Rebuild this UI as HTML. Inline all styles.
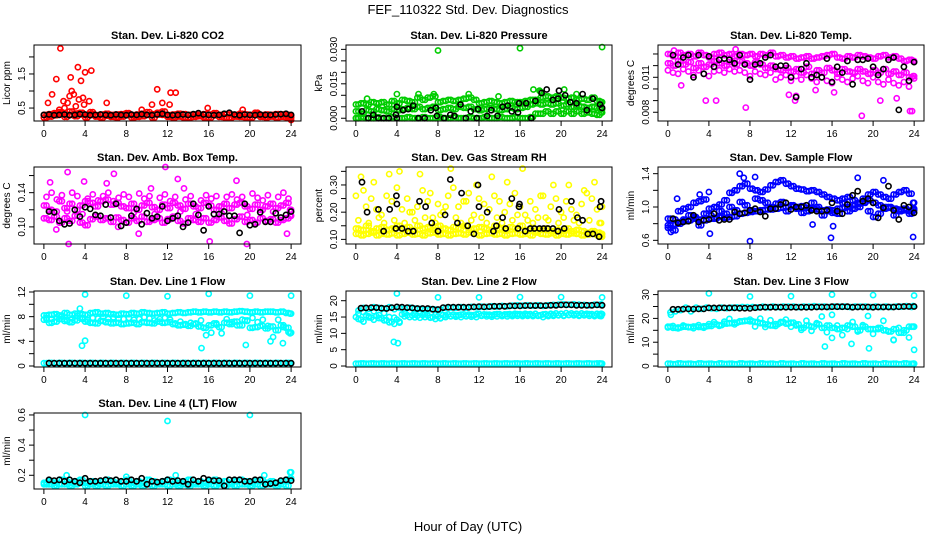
<!DOCTYPE html>
<html><head><meta charset="utf-8"><style>
html,body{margin:0;padding:0;background:#fff;}
svg{display:block;font-family:"Liberation Sans",Arial,sans-serif;}
</style></head><body>
<svg id="chart" width="936" height="540" viewBox="0 0 936 540">
<text x="468" y="14" text-anchor="middle" font-size="13">FEF_110322  Std. Dev. Diagnostics</text>
<text x="468" y="531" text-anchor="middle" font-size="13">Hour of Day (UTC)</text>
</svg>
<script>
// shared hour grid (half-hour sampling)
const H = [0,0.5,1,1.5,2,2.5,3,3.5,4,4.5,5,5.5,6,6.5,7,7.5,8,8.5,9,9.5,10,10.5,11,11.5,12,12.5,13,13.5,14,14.5,15,15.5,16,16.5,17,17.5,18,18.5,19,19.5,20,20.5,21,21.5,22,22.5,23,23.5,24];
const H2 = [0.25,0.75,1.25,1.75,2.25,2.75,3.25,3.75,4.25,4.75,5.25,5.75,6.25,6.75,7.25,7.75,8.25,8.75,9.25,9.75,10.25,10.75,11.25,11.75,12.25,12.75,13.25,13.75,14.25,14.75,15.25,15.75,16.25,16.75,17.25,17.75,18.25,18.75,19.25,19.75,20.25,20.75,21.25,21.75,22.25,22.75,23.25,23.75,23.9];
const xTicks = [0,4,8,12,16,20,24];

// Panel 1: Li-820 CO2
const co2A = [0.30,0.32,0.29,0.33,0.31,0.30,0.34,0.31,0.30,0.32,0.29,0.31,0.33,0.30,0.31,0.32,0.30,0.29,0.31,0.33,0.30,0.32,0.31,0.30,0.29,0.31,0.33,0.32,0.30,0.31,0.30,0.32,0.31,0.29,0.30,0.32,0.31,0.30,0.33,0.31,0.30,0.32,0.29,0.31,0.30,0.32,0.31,0.30,0.28];
const co2B = [0.22,0.25,0.35,0.38,0.24,0.40,0.26,0.36,0.23,0.38,0.25,0.22,0.27,0.24,0.23,0.25,0.35,0.22,0.24,0.26,0.38,0.22,0.36,0.40,0.24,0.22,0.25,0.23,0.22,0.24,0.26,0.23,0.22,0.35,0.24,0.23,0.22,0.25,0.24,0.23,0.22,0.36,0.24,0.23,0.25,0.22,0.24,0.23,0.22];
const co2OutX = [1.6,1.2,1.9,2.6,2.7,2.9,3.3,3.6,4.0,4.6,3.8,0.8,0.4,3.9,4.4,6.1,11.0,12.3,12.8,11.5,10.5,15.9,12.2,2.3,3.4,2.0,1.5,9.5,19.3,24.0,3.1,2.5];
const co2OutY = [2.25,1.35,0.7,1.4,1.0,0.9,1.7,1.3,1.55,1.6,0.8,0.9,0.65,0.6,0.7,0.65,1.05,0.95,0.95,0.65,0.6,0.5,0.6,0.65,0.75,0.5,0.45,0.45,0.45,0.15,0.55,0.85];
const co2Blk = [0.30,0.31,0.29,0.30,0.31,0.29,0.30,0.32,0.31,0.29,0.30,0.31,0.30,0.29,0.31,0.30,0.29,0.31,0.30,0.32,0.30,0.29,0.31,0.33,0.30,0.29,0.30,0.31,0.30,0.32,0.35,0.31,0.30,0.29,0.30,0.33,0.36,0.31,0.29,0.31,0.30,0.29,0.31,0.30,0.30,0.31,0.32,0.33,0.30];

// Panel 2: Li-820 Pressure
const prA = [0.006,0.0065,0.006,0.007,0.0065,0.007,0.006,0.0075,0.0065,0.008,0.0075,0.007,0.009,0.008,0.009,0.0095,0.007,0.0075,0.008,0.0075,0.008,0.0085,0.009,0.008,0.0065,0.007,0.0075,0.007,0.0065,0.007,0.0075,0.007,0.007,0.0075,0.008,0.008,0.009,0.0095,0.009,0.0095,0.009,0.0085,0.009,0.008,0.0085,0.008,0.009,0.0075,0.007];
const prB = [0.003,0.002,0.0035,0.003,0.004,0.0035,0.003,0.004,0.0035,0.004,0.0045,0.004,0.005,0.004,0.0045,0.005,0.0035,0.004,0.0045,0.004,0.005,0.0045,0.005,0.004,0.0035,0.004,0.0045,0.004,0.0035,0.004,0.0045,0.004,0.0045,0.005,0.006,0.0065,0.006,0.0065,0.006,0.0065,0.0055,0.006,0.005,0.0055,0.005,0.0045,0.005,0.0045,0.004];
const prZ = [0,0.0005,0,0,0.0005,0,0,0.0005,0,0,0.0005,0,0,0.0005,0,0,0.0005,0,0,0.0005,0,0,0.0005,0,0,0.0005,0,0,0.0005,0,0,0.0005,0,0,0.0005,0.002,0.002,0.003,0.002,0.003,0.002,0.003,0.002,0.003,0.002,0.0025,0.002,0.0015,0.0025];
const prOutX = [8,16,24,1.1,17.3,20.3,18,4,6.1,7.6,11.0,13.9,21.5,17.9,0.2];
const prOutY = [0.0295,0.0305,0.0310,0.0085,0.0125,0.0125,0.0115,0.0105,0.0105,0.0105,0.0105,0.0095,0.0105,0.0120,0];
const prBlkX = [0.6,1.2,1.7,2.2,2.7,3.2,4,4,3.9,4.6,5.1,5.6,6.1,6.7,7.3,7.8,7.9,8.6,9.2,9.6,10.2,10.7,11.2,11.8,11.9,12.8,13.2,13.8,14.3,14.8,15.2,15.8,15.9,16.6,17.1,17.5,18.1,18.6,19.2,19.7,19.8,20.4,20.9,21.5,22.1,22.5,23.1,23.8,24];
const prBlkY = [0.003,0,0.0015,0,0,0,0.005,0,0.0015,0.0035,0.004,0.0055,0,0,0.0035,0.0045,0.001,0,0.0015,0.001,0.006,0,0.003,0,0.004,0.001,0.0035,0.001,0.005,0.0055,0.003,0.0025,0.0065,0.0065,0,0.0075,0.011,0.0125,0.008,0.0085,0.012,0.010,0.007,0.0065,0.0105,0.0035,0.0085,0.006,0.0045];

// Panel 3: Li-820 Temp
const tpA = [0.0130,0.0128,0.0131,0.0129,0.0130,0.0128,0.0131,0.0129,0.0127,0.0130,0.0131,0.0129,0.0130,0.0128,0.0130,0.0129,0.0130,0.0128,0.0130,0.0129,0.0131,0.0128,0.0129,0.0127,0.0128,0.0126,0.0127,0.0128,0.0126,0.0127,0.0128,0.0129,0.0130,0.0127,0.0126,0.0128,0.0127,0.0129,0.0128,0.0127,0.0126,0.0128,0.0129,0.0127,0.0128,0.0126,0.0124,0.0125,0.0124];
const tpB = [0.0122,0.0120,0.0124,0.0121,0.0123,0.0118,0.0122,0.0119,0.0121,0.0124,0.0122,0.0120,0.0123,0.0121,0.0124,0.0122,0.0120,0.0123,0.0121,0.0118,0.0120,0.0117,0.0116,0.0118,0.0115,0.0117,0.0114,0.0119,0.0113,0.0116,0.0114,0.0118,0.0116,0.0113,0.0117,0.0115,0.0114,0.0117,0.0115,0.0113,0.0116,0.0114,0.0117,0.0113,0.0115,0.0112,0.0114,0.0110,0.0111];
const tpC = [0.0116,0.0114,0.0113,0.0117,0.0115,0.0112,0.0116,0.0113,0.0111,0.0115,0.0116,0.0114,0.0117,0.0115,0.0116,0.0114,0.0111,0.0115,0.0113,0.0112,0.0114,0.0108,0.0110,0.0112,0.0107,0.0111,0.0108,0.0112,0.0109,0.0106,0.0110,0.0107,0.0105,0.0110,0.0108,0.0106,0.0109,0.0111,0.0107,0.0105,0.0110,0.0106,0.0104,0.0108,0.0105,0.0103,0.0106,0.0102,0.0109];
const tpOutX = [1.3,3.7,4.7,7.6,12.4,12.5,11.8,18.9,20.7,22.3,23.6,23.8,16.2,14.4,6.6,0.6];
const tpOutY = [0.0103,0.0090,0.0090,0.0084,0.0090,0.0094,0.0095,0.0077,0.0090,0.0092,0.0081,0.0081,0.0097,0.0099,0.0134,0.0133];
const tpBlk = [null,0.0129,0.0121,0.0127,0.0129,0.0110,0.0129,0.0113,0.0128,0.0119,0.0125,0.0126,0.0125,0.0122,0.0129,0.0121,0.0108,0.0121,0.0122,0.0127,0.0129,0.0119,0.0120,0.0120,0.0110,0.0093,0.0117,0.0122,0.0110,0.0112,0.0110,0.0126,0.0106,0.0119,0.0114,0.0124,0.0104,0.0125,0.0125,0.0126,0.0119,0.0112,0.0117,0.0125,0.0127,0.0082,0.0119,0.0107,0.0123];

// Panel 4: Amb. Box Temp
const abA = [0.125,0.12,0.118,0.13,0.122,0.127,0.12,0.125,0.13,0.128,0.124,0.13,0.132,0.126,0.128,0.124,0.122,0.127,0.12,0.125,0.128,0.123,0.12,0.126,0.122,0.128,0.125,0.121,0.127,0.124,0.122,0.128,0.125,0.12,0.124,0.127,0.122,0.126,0.128,0.124,0.121,0.126,0.12,0.124,0.127,0.122,0.125,0.128,0.12];
const abB = [0.11,0.108,0.112,0.105,0.11,0.107,0.113,0.105,0.102,0.109,0.112,0.108,0.11,0.106,0.111,0.108,0.105,0.11,0.107,0.112,0.106,0.108,0.11,0.105,0.109,0.112,0.107,0.104,0.11,0.108,0.106,0.11,0.105,0.108,0.111,0.107,0.104,0.109,0.112,0.106,0.108,0.105,0.11,0.107,0.109,0.105,0.108,0.11,0.113];
const abC = [0.135,0.14,0.132,0.137,0.118,0.14,0.136,0.115,0.133,0.138,0.131,0.136,0.14,0.13,0.134,0.138,0.135,0.117,0.139,0.133,0.136,0.115,0.134,0.138,0.13,0.135,0.118,0.132,0.136,0.115,0.131,0.137,0.133,0.136,0.116,0.135,0.138,0.132,0.135,0.114,0.139,0.134,0.131,0.137,0.118,0.135,0.14,0.133,0.118];
const abOutX = [0.6,2.3,2.4,3.9,6.1,6.8,11.8,13.0,13.6,18.7,19.7,23.6,16.1,9.2,1.2,10.4,7.2];
const abOutY = [0.152,0.164,0.080,0.153,0.151,0.162,0.170,0.156,0.145,0.154,0.080,0.092,0.083,0.092,0.097,0.145,0.100];
const abBlk = [null,0.118,0.117,0.107,0.103,0.104,0.120,0.112,0.123,0.121,0.114,0.113,0.126,0.111,0.127,0.101,0.105,0.113,0.121,0.103,0.116,0.110,0.112,0.124,0.107,0.110,0.113,0.100,0.105,0.127,0.114,0.096,0.124,0.115,0.115,0.118,0.113,0.113,0.093,0.127,0.102,0.103,0.117,0.106,0.106,0.116,0.111,0.114,0.118];

// Panel 5: Gas Stream RH
const rhA = [0.12,0.115,0.12,0.125,0.115,0.12,0.118,0.122,0.115,0.12,0.125,0.118,0.12,0.115,0.122,0.125,0.118,0.12,0.115,0.12,0.122,0.118,0.125,0.12,0.115,0.12,0.122,0.118,0.12,0.115,0.12,0.122,0.118,0.12,0.115,0.125,0.12,0.118,0.122,0.115,0.12,0.118,0.122,0.12,0.115,0.118,0.12,0.115,0.11];
const rhB = [0.14,0.135,0.15,0.13,0.14,0.145,0.135,0.14,0.15,0.14,0.145,0.135,0.15,0.14,0.145,0.135,0.15,0.14,0.135,0.145,0.14,0.15,0.135,0.14,0.145,0.14,0.135,0.15,0.14,0.135,0.145,0.14,0.15,0.135,0.14,0.13,0.135,0.14,0.13,0.135,0.13,0.14,0.13,0.135,0.13,0.125,0.13,0.125,0.12];
const rhC = [0.26,0.33,0.22,0.25,0.21,0.19,0.26,0.24,0.29,0.21,0.25,0.20,0.22,0.28,0.24,0.18,0.23,0.20,0.26,0.29,0.22,0.24,0.27,0.19,0.25,0.23,0.21,0.26,0.24,0.20,0.23,0.27,0.22,0.19,0.24,0.21,0.26,0.18,0.22,0.25,0.20,0.24,0.21,0.19,0.23,0.27,0.25,0.21,0.22];
const rhD = [0.17,0.28,0.16,0.31,0.18,0.16,0.34,0.17,0.35,0.16,0.20,0.17,0.34,0.18,0.27,0.16,0.19,0.22,0.36,0.18,0.16,0.24,0.17,0.30,0.18,0.16,0.33,0.18,0.16,0.31,0.17,0.19,0.36,0.17,0.16,0.18,0.26,0.17,0.30,0.16,0.18,0.30,0.17,0.16,0.28,0.17,0.31,0.16,0.16];
const rhBlkX = [0.6,1.1,2.2,2.7,3.3,3.9,3.95,4.0,4.5,5.1,5.6,6.2,6.8,7.4,8.0,8.7,9.2,9.9,10.3,10.9,11.5,11.9,12.0,12.8,13.4,13.7,14.3,14.6,15.2,15.8,15.9,15.95,16.5,17.0,17.4,17.9,18.3,18.7,19.2,19.7,19.8,20.3,21.0,21.6,22.1,22.6,23.1,23.7,23.8,23.9];
const rhBlkY = [0.31,0.20,0.21,0.13,0.21,0.14,0.26,0.23,0.14,0.13,0.13,0.24,0.22,0.16,0.13,0.19,0.32,0.16,0.27,0.15,0.12,0.30,0.22,0.20,0.13,0.15,0.18,0.14,0.25,0.14,0.22,0.23,0.13,0.14,0.14,0.14,0.14,0.14,0.14,0.13,0.21,0.14,0.24,0.18,0.17,0.12,0.12,0.11,0.22,0.24];

// Panel 6: Sample Flow
const sfA = [0.78,0.79,0.82,0.83,0.84,0.86,0.85,0.84,0.86,0.87,0.88,0.87,0.88,0.89,0.92,0.93,0.94,0.95,0.96,0.97,0.97,0.98,0.99,1.00,1.01,1.00,1.01,0.99,0.98,0.97,0.96,0.95,0.96,0.98,0.99,1.00,1.02,1.04,1.06,1.08,1.05,1.02,1.00,0.99,0.98,0.97,0.96,0.95,0.98];
const sfB = [0.86,0.85,0.95,0.98,1.00,1.05,1.07,1.09,0.98,1.00,1.03,1.08,1.17,1.20,1.25,1.28,1.22,1.20,1.18,1.21,1.26,1.30,1.32,1.28,1.25,1.22,1.21,1.19,1.20,1.18,1.15,1.12,1.10,1.08,1.10,1.12,1.08,1.05,1.10,1.15,1.18,1.15,1.12,1.10,1.15,1.18,1.20,1.16,1.05];
const sfC = [0.75,0.72,0.80,0.85,0.90,0.88,0.78,0.92,0.90,0.86,0.95,0.92,1.00,0.96,1.06,1.02,0.96,1.10,1.08,1.05,1.00,1.04,1.06,0.95,1.02,0.98,0.93,0.95,1.05,1.00,0.90,0.97,0.93,0.92,1.05,0.95,0.98,1.00,1.05,0.95,0.88,0.92,0.98,1.00,0.90,0.95,0.98,0.92,0.96];
const sfOutX = [0.3,0.9,3.1,4.1,7.0,7.4,8.0,8.5,14.1,15.9,16.1,23.9,4.0,18.5,21.0];
const sfOutY = [0.70,1.10,1.15,0.68,1.40,1.35,0.59,1.36,0.79,0.63,0.77,0.64,1.18,1.35,1.32];
const sfBlk = [null,0.86,0.81,0.82,0.83,0.90,0.82,0.84,0.85,0.92,0.84,0.85,0.85,0.94,0.92,0.93,0.96,0.98,0.94,0.89,0.98,0.98,1.03,1.05,0.97,1.00,1.00,1.02,0.96,0.95,0.95,0.96,1.05,0.95,0.92,1.03,1.14,1.19,1.07,1.10,1.05,0.87,0.99,1.25,0.96,0.85,1.02,1.00,0.93];

// Panel 7: Line 1 Flow
const l1A = [8.2,8.3,8.4,8.2,8.6,8.3,8.5,8.4,8.3,8.6,8.7,8.5,8.6,8.4,8.3,8.5,8.4,8.6,8.5,8.7,8.6,8.5,8.6,8.7,8.5,8.6,8.7,8.6,8.7,8.8,8.7,8.8,8.7,8.8,8.7,8.8,8.7,8.8,8.9,8.8,8.7,8.8,8.7,8.8,8.8,8.7,8.8,8.6,8.5];
const l1B = [7.5,7.0,7.2,7.6,7.3,7.1,7.4,7.8,7.2,7.0,6.9,7.3,7.1,6.9,7.0,6.8,6.9,7.0,6.8,7.1,7.0,6.9,7.2,7.0,7.1,6.8,6.6,6.7,6.5,6.8,6.4,6.2,6.6,6.9,6.3,7.0,6.8,7.2,6.6,7.4,6.2,6.3,6.5,6.1,6.4,5.8,6.6,6.2,5.4];
const l1C = [7.8,7.6,7.9,8.0,7.5,7.7,8.1,7.6,7.5,7.8,7.7,8.0,7.6,7.9,7.7,7.6,7.8,7.5,7.6,7.9,7.7,7.4,7.6,7.8,7.5,6.9,7.2,6.8,7.0,6.9,7.4,5.0,5.4,6.7,5.3,7.6,7.1,6.6,7.5,7.3,7.8,7.1,7.5,6.5,4.7,7.5,6.3,5.5,5.3];
const l1Z = [0.45,0.5,0.45,0.5,0.45,0.5,0.45,0.5,0.45,0.5,0.45,0.5,0.45,0.5,0.45,0.5,0.45,0.5,0.45,0.5,0.45,0.5,0.45,0.5,0.45,0.5,0.45,0.5,0.45,0.5,0.45,0.5,0.45,0.5,0.45,0.5,0.45,0.5,0.45,0.5,0.45,0.5,0.45,0.5,0.45,0.5,0.45,0.5,0.45];
const l1OutX = [4,8,12,16,20,24,3.7,4.0,15.3,19.6,3.5,22.0,23.2];
const l1OutY = [11.6,11.4,11.3,11.7,11.4,11.4,3.3,4.1,2.9,3.4,9.3,4.0,3.7];
const l1Blk = [null,0.45,0.45,0.45,0.45,0.45,0.45,0.45,0.45,0.45,0.45,0.45,0.45,0.45,0.45,0.45,0.45,0.45,0.45,0.45,0.45,0.45,0.45,0.45,0.45,0.45,0.45,0.45,0.45,0.45,0.45,0.45,0.45,0.45,0.45,0.45,0.45,0.45,0.45,0.45,0.45,0.45,0.45,0.45,0.45,0.45,0.45,0.45,0.45];

// Panel 8: Line 2 Flow
const l2A = [17.0,17.8,17.5,18.0,17.8,17.6,18.0,17.4,17.8,17.6,17.9,17.6,17.5,17.2,17.4,17.3,17.2,17.8,17.9,17.8,18.0,17.8,18.1,18.0,18.2,18.1,18.3,18.2,18.4,18.3,18.5,18.6,18.5,18.6,18.5,18.6,18.4,18.6,18.7,18.8,18.9,18.8,18.9,18.8,18.7,18.6,18.8,18.7,18.9];
const l2B = [15.0,14.2,15.5,14.8,15.3,14.6,14.0,13.5,14.2,15.8,15.6,15.5,15.4,15.6,15.5,15.0,15.2,15.6,15.8,15.7,15.6,15.8,15.7,15.6,16.0,15.8,15.7,15.8,15.9,15.8,15.9,16.0,15.9,16.0,15.9,16.0,15.6,15.9,16.0,16.1,16.0,16.2,16.1,16.0,16.1,16.0,15.9,16.0,15.9];
const l2C = [16.0,16.5,15.2,16.8,15.6,16.2,15.0,14.8,13.3,16.2,16.6,15.8,16.4,16.0,14.8,15.6,14.7,15.5,15.3,15.5,15.7,15.4,15.6,15.8,15.5,15.7,15.6,15.9,15.6,15.8,15.7,15.9,15.7,15.8,15.6,15.5,15.8,15.6,15.7,15.6,15.5,15.7,15.8,15.6,15.8,15.9,15.6,15.8,16.0];
const l2Z = [0.7,0.8,0.7,0.8,0.7,0.8,0.7,0.8,0.7,0.8,0.7,0.8,0.7,0.8,0.7,0.8,0.7,0.8,0.7,0.8,0.7,0.8,0.7,0.8,0.7,0.8,0.7,0.8,0.7,0.8,0.7,0.8,0.7,0.8,0.7,0.8,0.7,0.8,0.7,0.8,0.7,0.8,0.7,0.8,0.7,0.8,0.7,0.8,0.7];
const l2OutX = [4,8,12,16,20,24,3.7,4.1];
const l2OutY = [22.2,21.0,21.0,21.1,21.1,21.0,7.4,7.0];
const l2Blk = [null,17.7,17.8,17.9,17.9,17.7,17.6,17.9,18.1,18.0,17.9,17.8,17.6,17.6,17.6,17.4,17.3,17.9,18.0,18.0,18.0,18.0,18.0,18.1,18.2,18.1,18.2,18.3,18.3,18.3,18.4,18.4,18.4,18.5,18.5,18.5,18.5,18.5,18.6,18.6,18.7,18.7,18.7,18.6,18.6,18.6,18.6,18.7,18.6];

// Panel 9: Line 3 Flow
const l3A = [16.5,16.0,16.2,16.5,16.3,16.6,16.4,16.7,16.8,17.5,17.2,17.8,18.0,18.2,18.8,19.0,18.8,18.5,18.0,17.5,17.0,17.6,18.5,17.8,18.2,17.5,16.0,17.0,16.5,17.5,16.0,17.0,16.0,15.5,16.0,17.0,16.5,15.0,16.5,15.5,15.5,16.0,15.0,14.5,15.5,14.0,15.0,16.5,16.5];
const l3B = [22.5,23.0,23.5,24.5,23.0,24.5,24.0,24.5,24.2,24.0,24.5,24.3,24.5,24.6,24.8,24.7,24.8,24.6,24.9,24.7,25.0,24.8,25.0,24.9,25.0,24.8,25.0,24.9,25.1,24.9,25.0,24.8,25.0,24.9,25.0,24.8,25.0,24.9,25.0,24.8,25.0,24.8,25.0,24.8,25.0,24.9,25.1,24.8,25.2];
const l3C = [16.2,16.8,15.8,17.0,16.4,15.9,17.2,16.1,17.6,18.4,16.9,18.6,19.8,17.5,18.6,18.9,19.5,16.6,19.9,16.4,19.2,16.8,18.2,19.5,16.5,17.0,15.2,19.0,14.8,18.0,20.8,14.2,21.5,17.0,13.0,15.5,18.5,14.5,17.2,21.0,13.5,15.5,19.0,14.5,11.0,16.0,14.0,12.0,6.8];
const l3Z = [1.0,0.8,1.1,0.9,1.0,0.8,1.1,0.9,1.0,0.8,1.1,0.9,1.0,0.8,1.1,0.9,1.0,0.8,1.1,0.9,1.0,0.8,1.1,0.9,1.0,0.8,1.1,0.9,1.0,0.8,1.1,0.9,1.0,0.8,1.1,0.9,1.0,0.8,1.1,0.9,1.0,0.8,1.1,0.9,1.0,0.8,1.1,0.9,1.0];
const l3OutX = [4,8,12,16,20,24,15.3,16.0,17.9,19.6,22.0,0.3];
const l3OutY = [30.5,29.2,29.3,30.0,29.8,29.6,8.2,11.8,9.3,7.4,10.9,21.5];
const l3Blk = [null,23.8,23.8,23.9,24.0,23.9,24.0,24.0,24.4,24.4,24.4,24.4,24.4,24.4,24.3,24.3,24.2,24.5,24.6,24.7,24.7,24.7,24.7,24.7,24.7,24.7,24.7,24.7,24.7,24.8,24.8,24.8,24.9,24.9,24.9,24.9,24.7,24.8,24.8,24.8,24.7,24.8,24.8,24.8,24.8,24.9,25.0,25.0,25.0];

// Panel 10: Line 4 (LT) Flow
const l4A = [0.15,0.16,0.15,0.17,0.16,0.15,0.16,0.17,0.15,0.16,0.15,0.16,0.17,0.16,0.15,0.16,0.17,0.15,0.16,0.15,0.17,0.16,0.15,0.16,0.17,0.16,0.15,0.16,0.17,0.15,0.16,0.15,0.16,0.17,0.15,0.16,0.15,0.16,0.17,0.16,0.15,0.16,0.17,0.15,0.16,0.15,0.16,0.17,0.22];
const l4B = [0.14,0.14,0.13,0.14,0.14,0.13,0.14,0.15,0.13,0.14,0.13,0.14,0.13,0.14,0.14,0.13,0.14,0.13,0.14,0.13,0.14,0.13,0.14,0.14,0.13,0.14,0.13,0.14,0.13,0.14,0.14,0.13,0.14,0.13,0.14,0.13,0.14,0.13,0.14,0.14,0.13,0.14,0.13,0.14,0.14,0.13,0.14,0.13,0.18];
const l4OutX = [4,12,20,2.2,12.8,21.4,8.0];
const l4OutY = [0.60,0.56,0.60,0.20,0.20,0.20,0.19];
const l4Blk = [null,0.17,0.165,0.17,0.16,0.17,0.16,0.15,0.18,0.16,0.16,0.165,0.17,0.165,0.17,0.16,0.16,0.17,0.16,0.18,0.14,0.16,0.155,0.16,0.17,0.16,0.165,0.16,0.14,0.17,0.16,0.18,0.17,0.165,0.165,0.13,0.17,0.17,0.17,0.16,0.16,0.17,0.17,0.14,0.145,0.15,0.165,0.17,0.165];

const NS='http://www.w3.org/2000/svg';
const svg=document.getElementById('chart');
function mk(tag, attrs, parent){const e=document.createElementNS(NS,tag);for(const k in attrs)e.setAttribute(k,attrs[k]);(parent||svg).appendChild(e);return e;}

function panel(cfg){
  const g=mk('g',{});
  
  
  const L=cfg.box[0],T=cfg.box[1],R=cfg.box[2],B=cfg.box[3];
  const xs=v=>L+(v+0.96)/25.92*(R-L);
  const ys=v=>B-(v-cfg.ymin)/(cfg.ymax-cfg.ymin)*(B-T);
  const title=mk('text',{x:(L+R)/2,y:T-6,'text-anchor':'middle','font-size':11,'font-weight':'bold'},g);
  title.textContent=cfg.title;
  
  
  const pg=mk('g',{fill:'none','stroke-width':1.6},g);
  
  
  cfg.series.forEach(s=>{
    const dx=s.dx||0, dy=s.dy||0;
    for(let i=0;i<s.y.length;i++){
      if(s.y[i]===null||s.y[i]===undefined)continue;
      const c=mk('circle',{cx:(xs(s.x[i])+dx).toFixed(1),cy:(ys(s.y[i])+dy).toFixed(1),r:2.6,stroke:s.c},pg);
      
      
    }
  });
  const box=mk('rect',{x:L,y:T,width:R-L,height:B-T,fill:'none',stroke:'#000','stroke-width':1},g);
  
  
  const xa=mk('g',{},g);
  
  
  xTicks.forEach(t=>{
    const x=xs(t);
    mk('line',{x1:x,x2:x,y1:B,y2:B+5,stroke:'#000'},xa);
    const tx=mk('text',{x:x,y:B+16,'text-anchor':'middle','font-size':10},xa);
    tx.textContent=t;
    
    
  });
  const ya=mk('g',{},g);
  
  
  cfg.yt.forEach(t=>{
    const y=ys(t);
    mk('line',{x1:L-5,x2:L,y1:y,y2:y,stroke:'#000'},ya);
  });
  cfg.yl.forEach((t,i)=>{
    const y=ys(t);
    const tx=mk('text',{x:L-9,y:y,'text-anchor':'middle','font-size':10,transform:'rotate(-90 '+(L-9)+' '+y+')'},ya);
    tx.textContent=cfg.ylab[i];
    
    
  });
  const yt=mk('text',{x:L-24,y:(T+B)/2,'text-anchor':'middle','font-size':10,transform:'rotate(-90 '+(L-24)+' '+((T+B)/2)+')'},g);
  yt.textContent=cfg.yname;
  
  
}
const C1=[34,301],C2=[346,612],C3=[658,924];
const R1=[45,121],R2=[167,244],R3=[291,367],R4=[413,489];
const RED='#ff0000',GRN='#00cd00',MAG='#ff00ff',YEL='#ffff00',BLU='#0000ff',CYN='#00ffff',BLK='#000000';

panel({name:'panel-li820-co2',title:'Stan. Dev. Li-820 CO2',box:[C1[0],R1[0],C1[1],R1[1]],ymin:0.12,ymax:2.35,yt:[0.5,1,1.5,2],yl:[0.5,1.5],ylab:['0.5','1.5'],yname:'Licor ppm',
 series:[{x:H,y:co2B,c:RED},{x:H2,y:co2B,c:RED},{x:H2,y:co2A,c:RED},{x:H,y:co2A,c:RED},{x:co2OutX,y:co2OutY,c:RED},{x:H,y:co2Blk,c:BLK}]});
panel({name:'panel-li820-pressure',title:'Stan. Dev. Li-820 Pressure',box:[C2[0],R1[0],C2[1],R1[1]],ymin:-0.0012,ymax:0.0319,yt:[0,0.005,0.01,0.015,0.02,0.025,0.03],yl:[0,0.015,0.03],ylab:['0.000','0.015','0.030'],yname:'kPa',
 series:[{x:H,y:prZ,c:GRN},{x:H2,y:prZ,c:GRN},{x:H2,y:prB,c:GRN},{x:H,y:prB,c:GRN},{x:H,y:prA,c:GRN},{x:H2,y:prA,c:GRN},{x:prOutX,y:prOutY,c:GRN},{x:prBlkX,y:prBlkY,c:BLK}]});
panel({name:'panel-li820-temp',title:'Stan. Dev. Li-820 Temp.',box:[C3[0],R1[0],C3[1],R1[1]],ymin:0.00725,ymax:0.01377,yt:[0.008,0.009,0.010,0.011,0.012,0.013],yl:[0.008,0.011],ylab:['0.008','0.011'],yname:'degrees C',
 series:[{x:H,y:tpA,c:MAG},{x:H2,y:tpB,c:MAG},{x:H,y:tpB,c:MAG},{x:H,y:tpC,c:MAG},{x:H2,y:tpA,c:MAG},{x:tpOutX,y:tpOutY,c:MAG},{x:H,y:tpBlk,c:BLK}]});
panel({name:'panel-amb-box-temp',title:'Stan. Dev. Amb. Box Temp.',box:[C1[0],R2[0],C1[1],R2[1]],ymin:0.080,ymax:0.170,yt:[0.10,0.12,0.14,0.16],yl:[0.10,0.14],ylab:['0.10','0.14'],yname:'degrees C',
 series:[{x:H,y:abA,c:MAG},{x:H2,y:abA,c:MAG},{x:H2,y:abB,c:MAG},{x:H2,y:abC,c:MAG},{x:H,y:abB,c:MAG},{x:abOutX,y:abOutY,c:MAG},{x:H,y:abBlk,c:BLK}]});
panel({name:'panel-gas-stream-rh',title:'Stan. Dev. Gas Stream RH',box:[C2[0],R2[0],C2[1],R2[1]],ymin:0.083,ymax:0.366,yt:[0.10,0.15,0.20,0.25,0.30,0.35],yl:[0.10,0.20,0.30],ylab:['0.10','0.20','0.30'],yname:'percent',
 series:[{x:H,y:rhA,c:YEL},{x:H2,y:rhB,c:YEL},{x:H,y:rhB,c:YEL},{x:H,y:rhC,c:YEL},{x:H2,y:rhD,c:YEL},{x:H2,y:rhA,c:YEL},{x:rhBlkX,y:rhBlkY,c:BLK}]});
panel({name:'panel-sample-flow',title:'Stan. Dev. Sample Flow',box:[C3[0],R2[0],C3[1],R2[1]],ymin:0.556,ymax:1.48,yt:[0.6,0.8,1.0,1.2,1.4],yl:[0.6,1.0,1.4],ylab:['0.6','1.0','1.4'],yname:'ml/min',
 series:[{x:H,y:sfA,c:BLU},{x:H2,y:sfA,c:BLU},{x:H2,y:sfB,c:BLU},{x:H,y:sfB,c:BLU},{x:H,y:sfC,c:BLU},{x:H2,y:sfC,c:BLU},{x:sfOutX,y:sfOutY,c:BLU},{x:H,y:sfBlk,c:BLK}]});
panel({name:'panel-line1-flow',title:'Stan. Dev. Line 1 Flow',box:[C1[0],R3[0],C1[1],R3[1]],ymin:-0.16,ymax:12.16,yt:[0,2,4,6,8,10,12],yl:[0,4,8,12],ylab:['0','4','8','12'],yname:'ml/min',
 series:[{x:H,y:l1A,c:CYN},{x:H2,y:l1A,c:CYN},{x:H,y:l1B,c:CYN},{x:H2,y:l1B,c:CYN},{x:H2,y:l1C,c:CYN},{x:H,y:l1Z,c:CYN},{x:H2,y:l1Z,c:CYN},{x:l1OutX,y:l1OutY,c:CYN},{x:H,y:l1Blk,c:BLK}]});
panel({name:'panel-line2-flow',title:'Stan. Dev. Line 2 Flow',box:[C2[0],R3[0],C2[1],R3[1]],ymin:-0.3,ymax:22.97,yt:[0,5,10,15,20],yl:[0,5,10,15,20],ylab:['0','5','10','15','20'],yname:'ml/min',
 series:[{x:H2,y:l2A,c:CYN},{x:H,y:l2B,c:CYN},{x:H2,y:l2B,c:CYN,dy:2},{x:H2,y:l2C,c:CYN},{x:H,y:l2Z,c:CYN},{x:H2,y:l2Z,c:CYN},{x:l2OutX,y:l2OutY,c:CYN},{x:H,y:l2Blk,c:BLK}]});
panel({name:'panel-line3-flow',title:'Stan. Dev. Line 3 Flow',box:[C3[0],R3[0],C3[1],R3[1]],ymin:-0.4,ymax:31.5,yt:[0,5,10,15,20,25,30],yl:[0,10,20,30],ylab:['0','10','20','30'],yname:'ml/min',
 series:[{x:H,y:l3A,c:CYN},{x:H2,y:l3A,c:CYN},{x:H2,y:l3B,c:CYN},{x:H,y:l3C,c:CYN},{x:H,y:l3Z,c:CYN},{x:H2,y:l3Z,c:CYN},{x:l3OutX,y:l3OutY,c:CYN},{x:H,y:l3Blk,c:BLK}]});
panel({name:'panel-line4-flow',title:'Stan. Dev. Line 4 (LT) Flow',box:[C1[0],R4[0],C1[1],R4[1]],ymin:0.109,ymax:0.613,yt:[0.2,0.3,0.4,0.5,0.6],yl:[0.2,0.4,0.6],ylab:['0.2','0.4','0.6'],yname:'ml/min',
 series:[{x:H,y:l4A,c:CYN},{x:H2,y:l4B,c:CYN},{x:H2,y:l4A,c:CYN},{x:H,y:l4B,c:CYN},{x:l4OutX,y:l4OutY,c:CYN},{x:H,y:l4Blk,c:BLK}]});
</script>
</body></html>
